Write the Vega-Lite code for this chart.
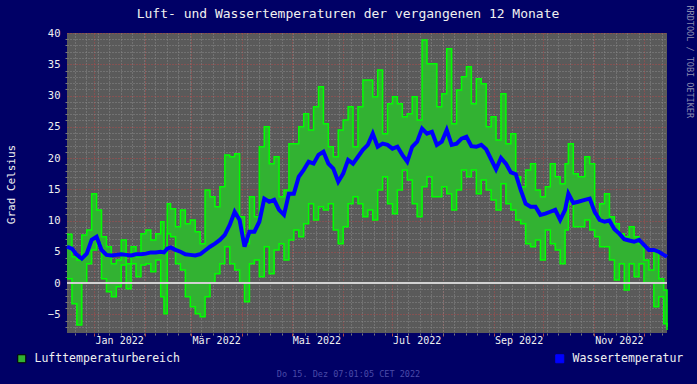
{
  "$schema": "https://vega.github.io/schema/vega-lite/v6.json",
  "width": 600,
  "height": 300,
  "autosize": {"type": "none"},
  "padding": {"left": 67, "top": 33, "right": 30, "bottom": 51},
  "background": "#000066",
  "title": {"text": "Luft- und Wassertemperaturen der vergangenen 12 Monate", "font": "DejaVu Sans Mono", "fontSize": 13, "fontWeight": "normal", "color": "#f0f0f0", "anchor": "middle", "frame": "group", "offset": 0, "dx": -19, "dy": 16},
  "data": {"values": [
    {"t": "2021-12-15T07:00", "lo": 0.7, "hi": 7.8, "w": 5.8},
    {"t": "2021-12-18T07:00", "lo": -3.3, "hi": 4.2, "w": 5.5},
    {"t": "2021-12-21T07:00", "lo": -6.7, "hi": 3.7, "w": 4.5},
    {"t": "2021-12-24T07:00", "lo": 0.0, "hi": 7.7, "w": 3.9},
    {"t": "2021-12-27T07:00", "lo": 3.1, "hi": 8.5, "w": 4.7},
    {"t": "2021-12-30T07:00", "lo": 5.3, "hi": 14.3, "w": 6.9},
    {"t": "2022-01-02T07:00", "lo": 6.3, "hi": 11.7, "w": 7.4},
    {"t": "2022-01-05T07:00", "lo": 0.7, "hi": 7.4, "w": 5.3},
    {"t": "2022-01-08T07:00", "lo": -1.4, "hi": 5.8, "w": 4.5},
    {"t": "2022-01-11T07:00", "lo": -2.2, "hi": 3.1, "w": 4.4},
    {"t": "2022-01-14T07:00", "lo": -0.6, "hi": 3.7, "w": 4.5},
    {"t": "2022-01-17T07:00", "lo": 2.9, "hi": 6.9, "w": 4.6},
    {"t": "2022-01-20T07:00", "lo": -0.9, "hi": 3.1, "w": 4.5},
    {"t": "2022-01-23T07:00", "lo": 3.1, "hi": 5.8, "w": 4.4},
    {"t": "2022-01-26T07:00", "lo": 1.0, "hi": 4.2, "w": 4.6},
    {"t": "2022-01-29T07:00", "lo": 2.9, "hi": 7.9, "w": 4.6},
    {"t": "2022-02-01T07:00", "lo": 3.1, "hi": 8.5, "w": 4.7},
    {"t": "2022-02-04T07:00", "lo": 1.8, "hi": 6.9, "w": 4.9},
    {"t": "2022-02-07T07:00", "lo": 3.7, "hi": 7.9, "w": 4.9},
    {"t": "2022-02-10T07:00", "lo": -2.2, "hi": 9.8, "w": 5.0},
    {"t": "2022-02-12T07:00", "lo": -4.9, "hi": 5.3, "w": 4.9},
    {"t": "2022-02-14T07:00", "lo": 7.9, "hi": 12.7, "w": 5.5},
    {"t": "2022-02-16T07:00", "lo": 7.4, "hi": 11.9, "w": 5.7},
    {"t": "2022-02-19T07:00", "lo": 3.1, "hi": 9.0, "w": 5.3},
    {"t": "2022-02-22T07:00", "lo": 2.1, "hi": 11.7, "w": 5.0},
    {"t": "2022-02-25T07:00", "lo": -2.2, "hi": 9.5, "w": 4.6},
    {"t": "2022-02-28T07:00", "lo": -3.8, "hi": 10.1, "w": 4.5},
    {"t": "2022-03-03T07:00", "lo": -4.9, "hi": 8.2, "w": 4.4},
    {"t": "2022-03-06T07:00", "lo": -5.4, "hi": 6.3, "w": 4.6},
    {"t": "2022-03-09T07:00", "lo": -2.2, "hi": 14.9, "w": 5.2},
    {"t": "2022-03-12T07:00", "lo": 0.0, "hi": 13.8, "w": 5.8},
    {"t": "2022-03-15T07:00", "lo": 1.5, "hi": 12.2, "w": 6.3},
    {"t": "2022-03-18T07:00", "lo": 3.1, "hi": 15.4, "w": 6.9},
    {"t": "2022-03-21T07:00", "lo": 5.8, "hi": 20.5, "w": 7.7},
    {"t": "2022-03-24T07:00", "lo": 3.1, "hi": 20.2, "w": 9.3},
    {"t": "2022-03-27T07:00", "lo": 2.1, "hi": 20.7, "w": 11.4},
    {"t": "2022-03-30T07:00", "lo": 0.0, "hi": 10.6, "w": 10.1},
    {"t": "2022-04-02T07:00", "lo": -3.0, "hi": 6.3, "w": 5.8},
    {"t": "2022-04-05T07:00", "lo": 3.1, "hi": 13.8, "w": 8.2},
    {"t": "2022-04-08T07:00", "lo": 3.7, "hi": 10.6, "w": 8.2},
    {"t": "2022-04-11T07:00", "lo": 1.0, "hi": 21.8, "w": 9.8},
    {"t": "2022-04-14T07:00", "lo": 5.8, "hi": 25.0, "w": 13.5},
    {"t": "2022-04-17T07:00", "lo": 1.5, "hi": 19.1, "w": 13.0},
    {"t": "2022-04-20T07:00", "lo": 5.3, "hi": 20.2, "w": 13.3},
    {"t": "2022-04-23T07:00", "lo": 6.3, "hi": 13.8, "w": 11.7},
    {"t": "2022-04-26T07:00", "lo": 3.7, "hi": 14.9, "w": 10.9},
    {"t": "2022-04-29T07:00", "lo": 6.9, "hi": 22.3, "w": 14.3},
    {"t": "2022-05-02T07:00", "lo": 8.5, "hi": 22.3, "w": 14.3},
    {"t": "2022-05-05T07:00", "lo": 7.4, "hi": 25.0, "w": 17.0},
    {"t": "2022-05-08T07:00", "lo": 9.5, "hi": 27.1, "w": 18.1},
    {"t": "2022-05-11T07:00", "lo": 12.7, "hi": 24.5, "w": 19.4},
    {"t": "2022-05-14T07:00", "lo": 10.1, "hi": 28.2, "w": 19.1},
    {"t": "2022-05-17T07:00", "lo": 12.2, "hi": 31.4, "w": 20.5},
    {"t": "2022-05-20T07:00", "lo": 11.7, "hi": 25.5, "w": 21.0},
    {"t": "2022-05-23T07:00", "lo": 12.7, "hi": 21.8, "w": 19.1},
    {"t": "2022-05-26T07:00", "lo": 8.5, "hi": 20.2, "w": 18.3},
    {"t": "2022-05-29T07:00", "lo": 6.3, "hi": 24.5, "w": 16.2},
    {"t": "2022-06-01T07:00", "lo": 9.0, "hi": 26.1, "w": 17.5},
    {"t": "2022-06-04T07:00", "lo": 12.7, "hi": 28.2, "w": 19.7},
    {"t": "2022-06-07T07:00", "lo": 13.8, "hi": 21.8, "w": 19.1},
    {"t": "2022-06-10T07:00", "lo": 12.7, "hi": 28.2, "w": 20.2},
    {"t": "2022-06-13T07:00", "lo": 10.6, "hi": 32.5, "w": 21.3},
    {"t": "2022-06-16T07:00", "lo": 11.7, "hi": 32.5, "w": 22.1},
    {"t": "2022-06-19T07:00", "lo": 10.1, "hi": 29.8, "w": 23.9},
    {"t": "2022-06-22T07:00", "lo": 14.9, "hi": 34.1, "w": 21.8},
    {"t": "2022-06-25T07:00", "lo": 17.0, "hi": 23.9, "w": 22.3},
    {"t": "2022-06-28T07:00", "lo": 12.7, "hi": 28.7, "w": 22.1},
    {"t": "2022-07-01T07:00", "lo": 11.1, "hi": 29.8, "w": 21.5},
    {"t": "2022-07-04T07:00", "lo": 14.9, "hi": 28.7, "w": 21.8},
    {"t": "2022-07-07T07:00", "lo": 18.1, "hi": 26.6, "w": 20.5},
    {"t": "2022-07-10T07:00", "lo": 16.5, "hi": 27.1, "w": 19.4},
    {"t": "2022-07-13T07:00", "lo": 12.7, "hi": 29.8, "w": 21.8},
    {"t": "2022-07-16T07:00", "lo": 10.6, "hi": 26.1, "w": 22.6},
    {"t": "2022-07-19T07:00", "lo": 15.4, "hi": 38.9, "w": 24.7},
    {"t": "2022-07-22T07:00", "lo": 17.0, "hi": 35.1, "w": 23.9},
    {"t": "2022-07-25T07:00", "lo": 13.8, "hi": 35.1, "w": 24.2},
    {"t": "2022-07-28T07:00", "lo": 13.8, "hi": 28.2, "w": 22.1},
    {"t": "2022-07-31T07:00", "lo": 15.4, "hi": 30.3, "w": 22.6},
    {"t": "2022-08-03T07:00", "lo": 14.3, "hi": 37.5, "w": 24.5},
    {"t": "2022-08-06T07:00", "lo": 11.7, "hi": 25.5, "w": 22.1},
    {"t": "2022-08-09T07:00", "lo": 14.9, "hi": 30.9, "w": 22.3},
    {"t": "2022-08-12T07:00", "lo": 18.1, "hi": 33.0, "w": 23.1},
    {"t": "2022-08-15T07:00", "lo": 17.0, "hi": 34.6, "w": 23.4},
    {"t": "2022-08-18T07:00", "lo": 18.1, "hi": 28.7, "w": 21.9},
    {"t": "2022-08-21T07:00", "lo": 14.3, "hi": 32.7, "w": 21.8},
    {"t": "2022-08-24T07:00", "lo": 16.5, "hi": 31.9, "w": 22.1},
    {"t": "2022-08-27T07:00", "lo": 14.9, "hi": 25.0, "w": 21.4},
    {"t": "2022-08-30T07:00", "lo": 13.3, "hi": 26.6, "w": 19.8},
    {"t": "2022-09-02T07:00", "lo": 11.7, "hi": 22.9, "w": 18.2},
    {"t": "2022-09-05T07:00", "lo": 15.9, "hi": 30.3, "w": 20.0},
    {"t": "2022-09-08T07:00", "lo": 12.7, "hi": 22.3, "w": 19.1},
    {"t": "2022-09-11T07:00", "lo": 11.7, "hi": 23.9, "w": 17.7},
    {"t": "2022-09-14T07:00", "lo": 10.1, "hi": 17.0, "w": 17.4},
    {"t": "2022-09-17T07:00", "lo": 9.5, "hi": 15.4, "w": 14.9},
    {"t": "2022-09-20T07:00", "lo": 6.3, "hi": 18.1, "w": 12.7},
    {"t": "2022-09-23T07:00", "lo": 5.8, "hi": 19.1, "w": 12.2},
    {"t": "2022-09-26T07:00", "lo": 6.9, "hi": 14.9, "w": 12.2},
    {"t": "2022-09-29T07:00", "lo": 3.7, "hi": 13.8, "w": 10.9},
    {"t": "2022-10-02T07:00", "lo": 8.5, "hi": 15.4, "w": 11.1},
    {"t": "2022-10-05T07:00", "lo": 6.3, "hi": 19.1, "w": 11.4},
    {"t": "2022-10-08T07:00", "lo": 5.3, "hi": 17.0, "w": 11.7},
    {"t": "2022-10-11T07:00", "lo": 3.1, "hi": 15.9, "w": 10.1},
    {"t": "2022-10-14T07:00", "lo": 8.5, "hi": 19.1, "w": 11.7},
    {"t": "2022-10-16T07:00", "lo": 12.7, "hi": 22.3, "w": 14.3},
    {"t": "2022-10-19T07:00", "lo": 9.0, "hi": 17.5, "w": 12.8},
    {"t": "2022-10-22T07:00", "lo": 9.0, "hi": 17.0, "w": 13.0},
    {"t": "2022-10-26T07:00", "lo": 10.1, "hi": 20.2, "w": 13.3},
    {"t": "2022-10-29T07:00", "lo": 8.5, "hi": 19.1, "w": 13.5},
    {"t": "2022-11-01T07:00", "lo": 7.4, "hi": 10.6, "w": 11.4},
    {"t": "2022-11-04T07:00", "lo": 5.8, "hi": 12.7, "w": 10.1},
    {"t": "2022-11-07T07:00", "lo": 5.8, "hi": 14.3, "w": 9.8},
    {"t": "2022-11-10T07:00", "lo": 3.7, "hi": 10.6, "w": 10.0},
    {"t": "2022-11-13T07:00", "lo": 0.5, "hi": 9.5, "w": 8.6},
    {"t": "2022-11-16T07:00", "lo": 3.1, "hi": 7.9, "w": 7.9},
    {"t": "2022-11-19T07:00", "lo": -1.1, "hi": 7.4, "w": 7.0},
    {"t": "2022-11-22T07:00", "lo": 3.1, "hi": 9.0, "w": 6.8},
    {"t": "2022-11-25T07:00", "lo": 1.0, "hi": 7.4, "w": 6.6},
    {"t": "2022-11-28T07:00", "lo": 3.1, "hi": 6.3, "w": 6.9},
    {"t": "2022-12-01T07:00", "lo": 0.0, "hi": 3.7, "w": 6.1},
    {"t": "2022-12-04T07:00", "lo": 0.0, "hi": 2.1, "w": 5.3},
    {"t": "2022-12-07T07:00", "lo": -3.8, "hi": 5.3, "w": 5.3},
    {"t": "2022-12-10T07:00", "lo": -2.2, "hi": 0.7, "w": 5.0},
    {"t": "2022-12-13T07:00", "lo": -6.5, "hi": -1.1, "w": 4.5},
    {"t": "2022-12-15T07:00", "lo": -7.5, "hi": -7.0, "w": 4.2}
  ]},
  "resolve": {"axis": {"x": "independent", "y": "independent"}},
  "layer": [
    {
      "mark": {"type": "area", "interpolate": "step-after"},
      "encoding": {
        "x": {"field": "t", "type": "temporal",
          "scale": {"domain": [{"year": 2021, "month": 12, "date": 15, "hours": 7, "minutes": 1}, {"year": 2022, "month": 12, "date": 15, "hours": 7, "minutes": 1}]},
          "axis": {"orient": "bottom", "values": [{"year": 2022, "month": 1, "date": 16}, {"year": 2022, "month": 3, "date": 16}, {"year": 2022, "month": 5, "date": 16}, {"year": 2022, "month": 7, "date": 16}, {"year": 2022, "month": 9, "date": 16}, {"year": 2022, "month": 11, "date": 16}],
            "labelExpr": "['Jan','Feb','Mär','Apr','Mai','Jun','Jul','Aug','Sep','Okt','Nov','Dez'][month(datum.value)] + ' ' + year(datum.value)",
            "labelFontSize": 10, "labelPadding": 2, "labelAngle": 0, "labelAlign": "center", "labelFlush": false, "labelOverlap": false,
            "grid": false, "ticks": false, "domain": false,
            "title": "Do 15. Dez 07:01:05 CET 2022", "titleFontSize": 8.5, "titleColor": "#4a4aa8", "titleX": 281, "titleY": 43, "titleAlign": "center", "titleBaseline": "alphabetic"}},
        "y": {"field": "lo", "type": "quantitative",
          "scale": {"domain": [-8, 40], "nice": false, "zero": false},
          "axis": {"orient": "left", "values": [-5, 0, 5, 10, 15, 20, 25, 30, 35, 40], "grid": true, "gridColor": "#b04a4a", "gridDash": [1, 2], "gridOpacity": 1,
            "labelFontSize": 10.5, "labelPadding": 7, "ticks": false, "domain": false,
            "title": "Grad Celsius", "titleFontSize": 11, "titleAngle": -90, "titleX": -56, "titleY": 151, "titleAlign": "center", "titleBaseline": "middle"}},
        "y2": {"field": "hi"},
        "fill": {"datum": "Lufttemperaturbereich", "type": "nominal", "scale": {"range": ["#32b232"]},
          "legend": {"orient": "none", "legendX": -51, "legendY": 320, "title": null, "padding": 0, "symbolType": "square", "symbolSize": 64, "labelOffset": 7, "labelFontSize": 11.5, "labelColor": "#f0f0f0", "labelFont": "DejaVu Sans Mono",
            "encode": {"symbols": {"update": {"fill": {"value": "#00ff00"}, "stroke": {"value": "#000000"}, "strokeWidth": {"value": 1}, "opacity": {"value": 1}, "fillOpacity": {"value": 1}}}}}}
      }
    },
    {
      "mark": {"type": "line", "interpolate": "step-after", "color": "#00ff00", "strokeWidth": 1.5},
      "encoding": {
        "x": {"field": "t", "type": "temporal",
          "axis": {"orient": "bottom", "values": [{"year": 2022, "month": 1, "date": 1}, {"year": 2022, "month": 2, "date": 1}, {"year": 2022, "month": 3, "date": 1}, {"year": 2022, "month": 4, "date": 1}, {"year": 2022, "month": 5, "date": 1}, {"year": 2022, "month": 6, "date": 1}, {"year": 2022, "month": 7, "date": 1}, {"year": 2022, "month": 8, "date": 1}, {"year": 2022, "month": 9, "date": 1}, {"year": 2022, "month": 10, "date": 1}, {"year": 2022, "month": 11, "date": 1}, {"year": 2022, "month": 12, "date": 1}],
            "grid": true, "gridColor": "#b04a4a", "gridDash": [1, 2], "gridOpacity": 1, "labels": false, "ticks": true, "tickColor": "#b04a4a", "tickSize": 3, "domain": false, "title": null}},
        "y": {"field": "hi", "type": "quantitative",
          "axis": {"orient": "left", "values": [-7, -6, -4, -3, -2, -1, 1, 2, 3, 4, 6, 7, 8, 9, 11, 12, 13, 14, 16, 17, 18, 19, 21, 22, 23, 24, 26, 27, 28, 29, 31, 32, 33, 34, 36, 37, 38, 39],
            "grid": true, "gridColor": "#8a8a8a", "gridDash": [1, 2], "gridOpacity": 1, "labels": false, "ticks": true, "tickColor": "#7a7a7a", "tickSize": 2, "domain": false, "title": null}}
      }
    },
    {
      "mark": {"type": "line", "interpolate": "step-after", "color": "#00ff00", "strokeWidth": 1.5},
      "encoding": {
        "x": {"field": "t", "type": "temporal",
          "axis": {"orient": "bottom", "values": [{"year": 2021, "month": 12, "date": 20}, {"year": 2021, "month": 12, "date": 27}, {"year": 2022, "month": 1, "date": 3}, {"year": 2022, "month": 1, "date": 10}, {"year": 2022, "month": 1, "date": 17}, {"year": 2022, "month": 1, "date": 24}, {"year": 2022, "month": 1, "date": 31}, {"year": 2022, "month": 2, "date": 7}, {"year": 2022, "month": 2, "date": 14}, {"year": 2022, "month": 2, "date": 21}, {"year": 2022, "month": 2, "date": 28}, {"year": 2022, "month": 3, "date": 7}, {"year": 2022, "month": 3, "date": 14}, {"year": 2022, "month": 3, "date": 21}, {"year": 2022, "month": 3, "date": 28}, {"year": 2022, "month": 4, "date": 4}, {"year": 2022, "month": 4, "date": 11}, {"year": 2022, "month": 4, "date": 18}, {"year": 2022, "month": 4, "date": 25}, {"year": 2022, "month": 5, "date": 2}, {"year": 2022, "month": 5, "date": 9}, {"year": 2022, "month": 5, "date": 16}, {"year": 2022, "month": 5, "date": 23}, {"year": 2022, "month": 5, "date": 30}, {"year": 2022, "month": 6, "date": 6}, {"year": 2022, "month": 6, "date": 13}, {"year": 2022, "month": 6, "date": 20}, {"year": 2022, "month": 6, "date": 27}, {"year": 2022, "month": 7, "date": 4}, {"year": 2022, "month": 7, "date": 11}, {"year": 2022, "month": 7, "date": 18}, {"year": 2022, "month": 7, "date": 25}, {"year": 2022, "month": 8, "date": 1}, {"year": 2022, "month": 8, "date": 8}, {"year": 2022, "month": 8, "date": 15}, {"year": 2022, "month": 8, "date": 22}, {"year": 2022, "month": 8, "date": 29}, {"year": 2022, "month": 9, "date": 5}, {"year": 2022, "month": 9, "date": 12}, {"year": 2022, "month": 9, "date": 19}, {"year": 2022, "month": 9, "date": 26}, {"year": 2022, "month": 10, "date": 3}, {"year": 2022, "month": 10, "date": 10}, {"year": 2022, "month": 10, "date": 17}, {"year": 2022, "month": 10, "date": 24}, {"year": 2022, "month": 10, "date": 31}, {"year": 2022, "month": 11, "date": 7}, {"year": 2022, "month": 11, "date": 14}, {"year": 2022, "month": 11, "date": 21}, {"year": 2022, "month": 11, "date": 28}, {"year": 2022, "month": 12, "date": 5}, {"year": 2022, "month": 12, "date": 12}],
            "grid": true, "gridColor": "#8a8a8a", "gridDash": [1, 2], "gridOpacity": 1, "labels": false, "ticks": true, "tickColor": "#7a7a7a", "tickSize": 2, "domain": false, "title": null}},
        "y": {"field": "lo", "type": "quantitative",
          "axis": {"orient": "right", "labels": false, "ticks": false, "grid": false, "domain": false,
            "title": "RRDTOOL / TOBI OETIKER", "titleFontSize": 8.5, "titleColor": "#8a8aae", "titleAngle": 90, "titleX": 22, "titleY": -28, "titleAlign": "left", "titleBaseline": "middle"}}
      }
    },
    {
      "mark": {"type": "rule", "color": "#d2d2d2", "strokeWidth": 1},
      "encoding": {"y": {"datum": 0, "type": "quantitative", "axis": null}}
    },
    {
      "mark": {"type": "line", "strokeWidth": 4, "strokeJoin": "miter"},
      "encoding": {
        "x": {"field": "t", "type": "temporal", "axis": null},
        "y": {"field": "w", "type": "quantitative", "axis": null},
        "stroke": {"datum": "Wassertemperatur", "type": "nominal", "scale": {"range": ["#0000ff"]},
          "legend": {"orient": "none", "legendX": 487, "legendY": 320, "title": null, "padding": 0, "symbolType": "square", "symbolSize": 64, "labelOffset": 7, "labelFontSize": 11.5, "labelColor": "#f0f0f0", "labelFont": "DejaVu Sans Mono",
            "encode": {"symbols": {"update": {"fill": {"value": "#0000ff"}, "stroke": {"value": "#000000"}, "strokeWidth": {"value": 1}, "shape": {"value": "square"}, "size": {"value": 64}, "opacity": {"value": 1}, "fillOpacity": {"value": 1}}}}}}
      }
    }
  ],
  "config": {
    "font": "DejaVu Sans Mono",
    "view": {"fill": "#5a5a5a", "stroke": null},
    "axis": {"labelFont": "DejaVu Sans Mono", "titleFont": "DejaVu Sans Mono", "labelColor": "#f0f0f0", "titleColor": "#f0f0f0", "titleFontWeight": "normal"},
    "legend": {"labelFont": "DejaVu Sans Mono"}
  }
}
